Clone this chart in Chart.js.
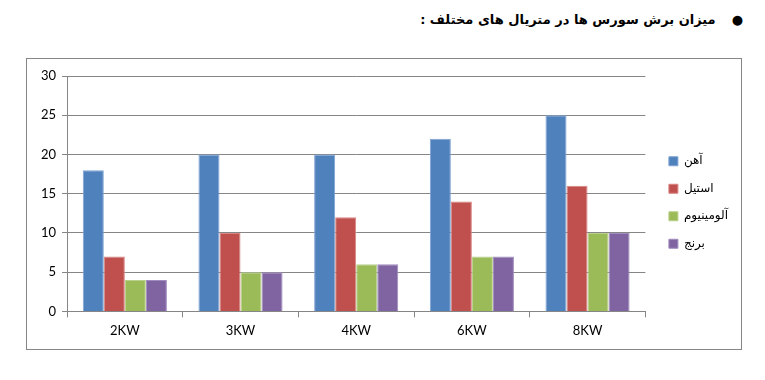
<!DOCTYPE html>
<html>
<head>
<meta charset="utf-8">
<script src="https://cdn.jsdelivr.net/npm/chart.js@4/dist/chart.umd.min.js"></script>
<style>
html,body{margin:0;padding:0;background:#fff;width:765px;height:380px;overflow:hidden;}
#title{position:absolute;top:12px;right:22px;direction:rtl;font-family:"DejaVu Sans",sans-serif;font-weight:bold;font-size:13px;color:#000;white-space:nowrap;}
#title .b{display:inline-block;margin-left:16px;font-size:13px;}
#box{position:absolute;left:26px;top:58px;width:716px;height:292px;border:1px solid #868686;box-sizing:border-box;}
canvas{display:block;}
</style>
</head>
<body>
<div id="title"><span class="b">●</span>میزان برش سورس ها در متریال های مختلف :</div>
<div id="box"><canvas id="c" width="714" height="290"></canvas></div>
<script>
const categories = ["2KW","3KW","4KW","6KW","8KW"];
const seriesNames = ["آهن","استیل","آلومینیوم","برنج"];
const iron = [18,20,20,22,25];
const steel = [7,10,12,14,16];
const aluminium = [4,5,6,7,10];
const brass = [4,5,6,7,10];
const yTicks = [0,5,10,15,20,25,30];

const colors = ["#4F81BD","#C0504D","#9BBB59","#8064A2"];
const borders = ["#7FA3D3","#D88583","#B8D08A","#A08CBE"];
const values = [iron, steel, aluminium, brass];

const legendShift = {
  id: 'legendShift',
  afterLayout(chart) {
    const l = chart.legend;
    if (!l) return;
    l.left += 8; l.right += 8;
    l.top -= 8; l.bottom -= 8;
  }
};

new Chart(document.getElementById('c'), {
  type: 'bar',
  data: {
    labels: categories,
    datasets: seriesNames.map((n,i)=>({
      label: n,
      data: values[i],
      backgroundColor: colors[i],
      borderColor: borders[i],
      borderWidth: 1,
      categoryPercentage: 4/5.5,
      barPercentage: 1
    }))
  },
  plugins: [legendShift],
  options: {
    responsive: false,
    animation: false,
    layout: { padding: { top: 17, right: 11, bottom: 4, left: 0 } },
    plugins: {
      tooltip: { enabled: false },
      legend: {
        position: 'right',
        align: 'center',
        labels: {
          boxWidth: 9, boxHeight: 9, padding: 15.5,
          color: '#000',
          font: { family: '"DejaVu Sans"', size: 12 }
        }
      }
    },
    scales: {
      x: {
        grid: { offset: true, drawOnChartArea: false, drawTicks: true, tickLength: 6, color: '#868686' },
        border: { color: '#868686' },
        ticks: { color: '#000', font: { family: 'Lato', size: 13 }, padding: 6 }
      },
      y: {
        min: 0, max: 30,
        afterBuildTicks: s => { s.ticks = yTicks.map(v=>({value:v})); },
        afterFit: s => { s.width = 40; },
        grid: { color: '#868686', tickLength: 5 },
        border: { color: '#868686' },
        ticks: { color: '#000', font: { family: 'Lato', size: 13 }, padding: 6 }
      }
    }
  }
});
</script>
</body>
</html>
